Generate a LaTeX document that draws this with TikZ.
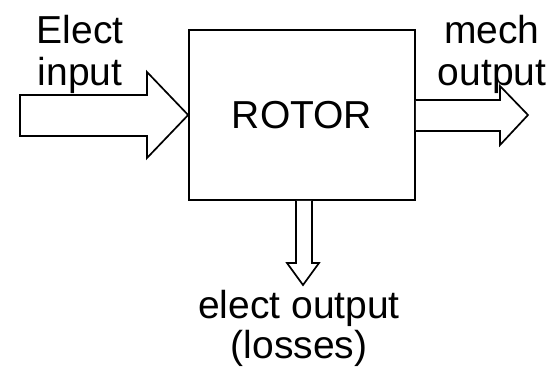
\documentclass[tikz,border=0pt]{standalone}
\usepackage{fontspec}
\setmainfont{Liberation Sans}
\usepackage{tikz}
\usetikzlibrary{positioning,calc}

\begin{document}
\begin{tikzpicture}[x=1pt,y=-1pt,line width=1.7pt,
  box/.style={draw,minimum width=226pt,minimum height=170pt,inner sep=0pt},
  lbl/.style={align=center,inner sep=0pt,font=\fontsize{39}{42}\selectfont},
  blockarrow/.style={draw,fill=white,line join=miter}]
  \useasboundingbox (0,0) rectangle (554,367);
  \node[box,lbl] (rotor) at (302,115) {ROTOR};
  \draw[blockarrow] (20,95) -- (147,95) -- (147,72) -- (rotor.west) -- (147,158) -- (147,136) -- (20,136) -- cycle;
  \draw[blockarrow] (rotor.east |- 0,100) -- (500,100) -- (500,86) -- (528,115) -- (500,145) -- (500,131) -- (rotor.east |- 0,131);
  \draw[blockarrow] (rotor.south -| 296,0) -- (296,263) -- (287,263) -- (303,285) -- (319,263) -- (312,263) -- (rotor.south -| 312,0);
  \node[lbl] (elect) at (80,54) {Elect\\input};
  \node[lbl] (mech) at (492,54) {mech\\output};
  \node[lbl,font=\fontsize{39}{40}\selectfont] (losses) at (299,328) {elect output\\(losses)};
\end{tikzpicture}
\end{document}
